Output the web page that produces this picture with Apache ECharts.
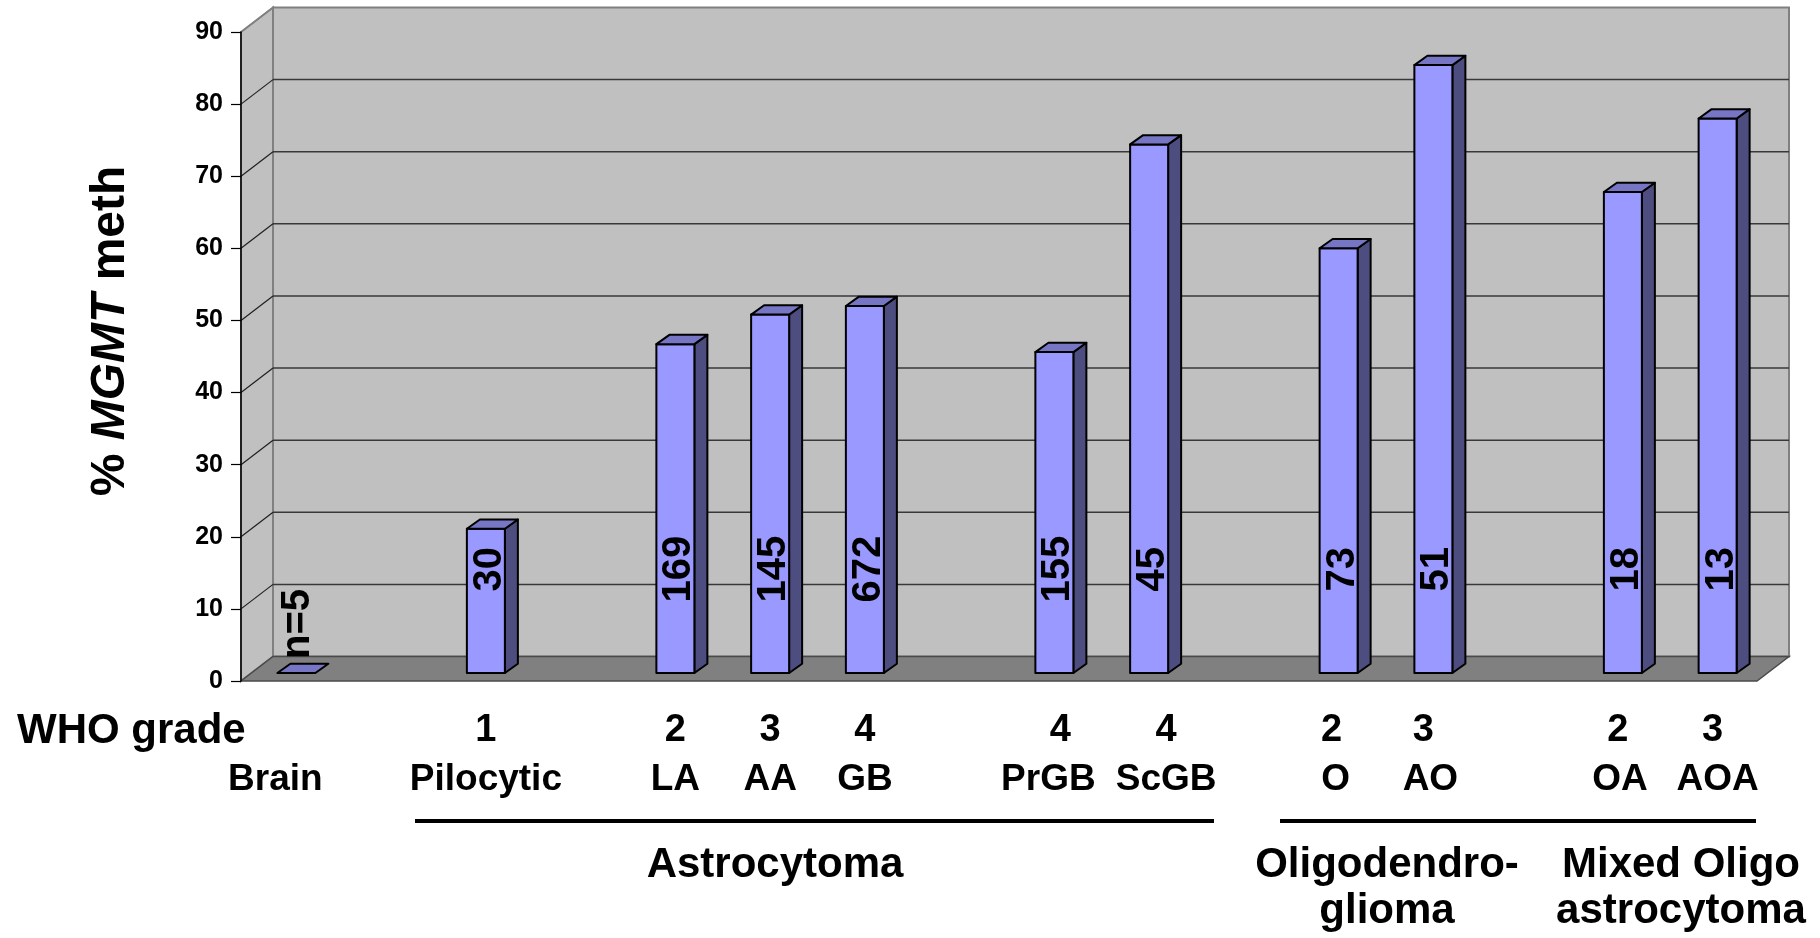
<!DOCTYPE html>
<html>
<head>
<meta charset="utf-8">
<script src="https://cdn.jsdelivr.net/npm/echarts@6/dist/echarts.min.js"></script>
<style>
  html, body { margin: 0; padding: 0; background: #ffffff; }
  #chart { width: 1820px; height: 938px; }
</style>
</head>
<body>
<div id="chart"></div>
<script>
// Tumour groups along the floor; blank slots leave the gaps between groups.
const categories = ['Brain', '', 'Pilocytic', '', 'LA', 'AA', 'GB', '', 'PrGB', 'ScGB', '', 'O', 'AO', '', 'OA', 'AOA'];
const whoGrades = ['', '', '1', '', '2', '3', '4', '', '4', '4', '', '2', '3', '', '2', '3'];
// Percentage of cases with MGMT promoter methylation.
const methylatedPct = [0, null, 20, null, 45.6, 49.7, 50.9, null, 44.5, 73.3, null, 58.9, 84.3, null, 66.7, 76.9];
// Number of cases per group.
const caseCounts = [5, null, 30, null, 169, 145, 672, null, 155, 45, null, 73, 51, null, 18, 13];
const yTicks = [0, 10, 20, 30, 40, 50, 60, 70, 80, 90];

const FONT = "'Liberation Sans', Arial, Helvetica, sans-serif";
const WALL_DEPTH = [32, -24.5];   // offset of the back wall from the front plane
const BAR_FRONT = [8, -8];        // bar front face sits a little into the floor
const BAR_DEPTH = [13, -9.3];     // depth of each column
const BAR_W = 38;
const LABEL_LEVEL = 15.5;         // value height where the case counts are centred

// Horizontal nudge (px) of the category captions relative to the slot centre.
const DEFAULT_NUDGE = 8;
const GRADE_NUDGE = { 8: 14, 9: 25, 11: 1, 12: -2, 14: 3, 15: 3 };
const NAME_NUDGE = { 0: -13, 8: 2, 9: 25, 11: 5, 12: 5, 14: 5 };

const barData = [];
categories.forEach((c, i) => {
  if (methylatedPct[i] !== null) barData.push([i, methylatedPct[i], caseCounts[i]]);
});

function renderWalls(params, api) {
  const cs = params.coordSys;
  const [dx, dy] = WALL_DEPTH;
  const xL = cs.x, xR = cs.x + cs.width, yT = cs.y, yB = cs.y + cs.height;
  const children = [];
  children.push({
    type: 'rect',
    shape: { x: xL + dx, y: yT + dy, width: cs.width, height: cs.height },
    style: { fill: '#C0C0C0', stroke: '#808080', lineWidth: 2 }
  });
  children.push({
    type: 'polygon',
    shape: { points: [[xL, yT], [xL + dx, yT + dy], [xL + dx, yB + dy], [xL, yB]] },
    style: { fill: '#C0C0C0', stroke: '#808080', lineWidth: 2 }
  });
  yTicks.forEach(v => {
    if (v === 0) return;
    const y = api.coord([0, v])[1];
    if (v !== yTicks[yTicks.length - 1]) {
      children.push({
        type: 'line',
        shape: { x1: xL + dx, y1: y + dy, x2: xR + dx, y2: y + dy },
        style: { stroke: '#383838', lineWidth: 1.5 }
      });
    }
    children.push({
      type: 'line',
      shape: { x1: xL, y1: y, x2: xL + dx, y2: y + dy },
      style: { stroke: v === 90 ? '#808080' : '#202020', lineWidth: 1.2 }
    });
  });
  children.push({
    type: 'polygon',
    shape: { points: [[xL, yB], [xR, yB], [xR + dx, yB + dy], [xL + dx, yB + dy]] },
    style: { fill: '#808080', stroke: '#4a4a4a', lineWidth: 1.5 }
  });
  return { type: 'group', children };
}

function renderBar(params, api) {
  const i = api.value(0), v = api.value(1), n = api.value(2);
  const p0 = api.coord([i, 0]);
  const p1 = api.coord([i, v]);
  const cx = p0[0] + BAR_FRONT[0];
  const yb = p0[1] + BAR_FRONT[1];
  const yt = p1[1] + BAR_FRONT[1];
  const xl = cx - BAR_W / 2, xr = cx + BAR_W / 2;
  const [dx, dy] = BAR_DEPTH;
  const edge = { stroke: '#000000', lineWidth: 2, lineJoin: 'round' };
  const children = [];
  if (yb - yt > 0.5) {
    children.push({
      type: 'polygon',
      shape: { points: [[xr, yb], [xr + dx, yb + dy], [xr + dx, yt + dy], [xr, yt]] },
      style: Object.assign({ fill: '#4D4D80' }, edge)
    });
    children.push({
      type: 'rect',
      shape: { x: xl, y: yt, width: BAR_W, height: yb - yt },
      style: Object.assign({ fill: '#9999FF' }, edge)
    });
  }
  children.push({
    type: 'polygon',
    shape: { points: [[xl, yt], [xl + dx, yt + dy], [xr + dx, yt + dy], [xr, yt]] },
    style: Object.assign({ fill: '#7676C4' }, edge)
  });

  const labelFont = `bold 40px ${FONT}`;
  const levelY = api.coord([i, LABEL_LEVEL])[1];
  if (yt < levelY - 30) {
    children.push({
      type: 'text', x: cx + 4, y: Math.max(levelY, yt + 36), rotation: Math.PI / 2,
      style: { text: String(n), font: labelFont, fill: '#000', align: 'center', verticalAlign: 'middle' }
    });
  } else {
    children.push({
      type: 'text', x: cx + 2, y: yt - 14, rotation: Math.PI / 2,
      style: { text: 'n=' + n, font: labelFont, fill: '#000', align: 'left', verticalAlign: 'middle' }
    });
  }
  return { type: 'group', children };
}

const boldText = (size, extra) => Object.assign({ fontSize: size, fontWeight: 'bold', fontFamily: FONT, color: '#000' }, extra || {});
const nudgePadding = shift => shift >= 0 ? [0, 0, 0, 2 * shift] : [0, -2 * shift, 0, 0];

// One rich style per slot so each caption can be nudged on its own.
const captionRich = {};
categories.forEach((c, i) => {
  const gShift = GRADE_NUDGE[i] !== undefined ? GRADE_NUDGE[i] : DEFAULT_NUDGE;
  const nShift = NAME_NUDGE[i] !== undefined ? NAME_NUDGE[i] : DEFAULT_NUDGE;
  captionRich['g' + i] = boldText(38, { lineHeight: 48, padding: nudgePadding(gShift) });
  captionRich['n' + i] = boldText(37, { lineHeight: 50, padding: nudgePadding(nShift) });
});

const chart = echarts.init(document.getElementById('chart'), null, { renderer: 'canvas' });

chart.setOption({
  animation: false,
  backgroundColor: '#ffffff',
  grid: { left: 241, right: 63, top: 32, bottom: 257, containLabel: false },
  xAxis: {
    type: 'category',
    data: categories,
    boundaryGap: true,
    axisLine: { show: false },
    axisTick: { show: false },
    splitLine: { show: false },
    axisLabel: {
      interval: 0,
      margin: 26,
      formatter: (val, idx) => {
        if (!val) return '';
        const g = whoGrades[idx] || ' ';
        return `{g${idx}|${g}}\n{n${idx}|${val}}`;
      },
      rich: captionRich
    }
  },
  yAxis: {
    type: 'value',
    min: 0,
    max: 90,
    interval: 10,
    z: 5,
    axisLine: { show: true, lineStyle: { color: '#000', width: 1.5 } },
    axisTick: { show: true, length: 10, lineStyle: { color: '#000', width: 1.2 } },
    splitLine: { show: false },
    axisLabel: { margin: 18, fontSize: 25, fontWeight: 'bold', fontFamily: FONT, color: '#000' }
  },
  graphic: [
    {
      type: 'text', x: 111, y: 331, rotation: Math.PI / 2,
      style: {
        text: '{a|% }{b|MGMT}{a| meth}',
        align: 'center', verticalAlign: 'middle',
        rich: {
          a: { fontSize: 48, fontWeight: 'bold', fontFamily: FONT, fill: '#000' },
          b: { fontSize: 48, fontWeight: 'bold', fontStyle: 'italic', fontFamily: FONT, fill: '#000' }
        }
      }
    },
    {
      type: 'text', x: 17, y: 731,
      style: { text: 'WHO grade', font: `bold 42px ${FONT}`, fill: '#000', align: 'left', verticalAlign: 'middle' }
    },
    { type: 'line', shape: { x1: 415, y1: 821, x2: 1214, y2: 821 }, style: { stroke: '#000', lineWidth: 4 } },
    { type: 'line', shape: { x1: 1280, y1: 821, x2: 1756, y2: 821 }, style: { stroke: '#000', lineWidth: 4 } },
    {
      type: 'text', x: 775, y: 865,
      style: { text: 'Astrocytoma', font: `bold 42px ${FONT}`, fill: '#000', align: 'center', verticalAlign: 'middle' }
    },
    {
      type: 'text', x: 1387, y: 888,
      style: { text: 'Oligodendro-\nglioma', font: `bold 42px ${FONT}`, lineHeight: 46, fill: '#000', align: 'center', verticalAlign: 'middle' }
    },
    {
      type: 'text', x: 1681, y: 888,
      style: { text: 'Mixed Oligo\nastrocytoma', font: `bold 42px ${FONT}`, lineHeight: 46, fill: '#000', align: 'center', verticalAlign: 'middle' }
    }
  ],
  series: [
    {
      type: 'custom',
      name: 'walls',
      coordinateSystem: 'cartesian2d',
      clip: false,
      silent: true,
      z: 1,
      data: [[0, 0]],
      renderItem: renderWalls
    },
    {
      type: 'custom',
      name: '% MGMT meth',
      coordinateSystem: 'cartesian2d',
      clip: false,
      z: 3,
      data: barData,
      renderItem: renderBar
    }
  ]
});
</script>
</body>
</html>
